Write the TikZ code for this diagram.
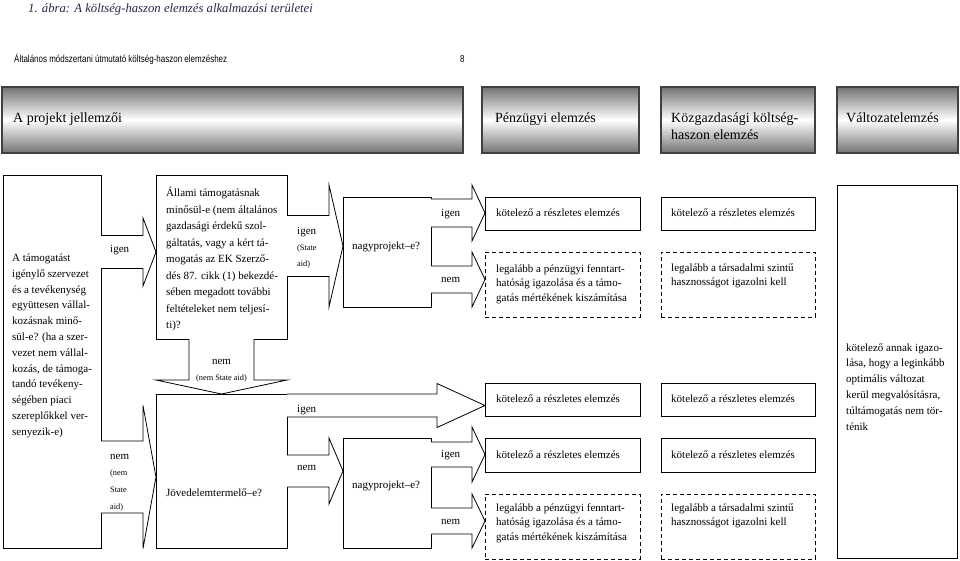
\documentclass[tikz,border=0pt]{standalone}
\usepackage{fontspec}
\usepackage{graphicx}
\setmainfont{Liberation Serif}
\newfontfamily\hdrsans{Liberation Sans}
\usetikzlibrary{calc}
\definecolor{titlecol}{RGB}{35,40,75}
\definecolor{hdrdark}{RGB}{115,115,115}
\newcommand\tl[1]{\begin{tabular}[t]{@{}l@{}}#1\end{tabular}}
\newcommand\barr[6]{%
  \coordinate (bm) at (#3,#4);
  \draw[barrow] ($(#1.east|-bm)+(0,-#5)$) -- ($(bm)+(0,-#5)$) -- ($(bm)+(0,-#6)$)
    -- (#2.west|-bm) -- ($(bm)+(0,#6)$) -- ($(bm)+(0,#5)$) -- ($(#1.east|-bm)+(0,#5)$);}
\newcommand\barrv[6]{%
  \coordinate (bm) at (#4,#3);
  \draw[barrow] ($(#1.south-|bm)+(-#5,0)$) -- ($(bm)+(-#5,0)$) -- ($(bm)+(-#6,0)$)
    -- (#2.north-|bm) -- ($(bm)+(#6,0)$) -- ($(bm)+(#5,0)$) -- ($(#1.south-|bm)+(#5,0)$);}
\tikzset{
  box/.style={draw=black, line width=1pt, anchor=north west, inner sep=0pt, outer sep=0pt},
  dbox/.style={box, dash pattern=on 4pt off 3pt},
  hbox/.style={draw=black!75, line width=1.1pt, anchor=north west, inner sep=0pt, outer sep=0pt,
    top color=hdrdark, bottom color=hdrdark, middle color=white},
  txt/.style={anchor=base west, inner sep=0pt, font=\fontsize{11}{15}\selectfont},
  small/.style={anchor=base west, inner sep=0pt, font=\fontsize{8.3}{10}\selectfont},
  htxt/.style={anchor=base west, inner sep=0pt, font=\fontsize{14}{17}\selectfont},
  barrow/.style={draw=black, line width=0.8pt, fill=white, line join=miter},
}
\begin{document}
\begin{tikzpicture}[x=1pt,y=-1pt]
\useasboundingbox (0,0) rectangle (960,560);

% title and page header
\node[anchor=base west, inner sep=0pt, text=titlecol, font=\fontsize{12.7}{16}\selectfont\itshape] (title) at (28,12) {1. ábra: A költség-haszon elemzés alkalmazási területei};
\node[anchor=base west, inner sep=0pt, font=\hdrsans\fontsize{10}{12}\selectfont] (hdr) at (14,62) {\scalebox{0.8}[1]{Általános módszertani útmutató költség-haszon elemzéshez}};
\node[anchor=base west, inner sep=0pt, font=\hdrsans\fontsize{10}{12}\selectfont] (pg) at (460,62) {\scalebox{0.8}[1]{8}};

% header boxes
\node[hbox, minimum width=461, minimum height=66] (H1) at (2,87) {};
\node[hbox, minimum width=157, minimum height=66] (H2) at (482,87) {};
\node[hbox, minimum width=154, minimum height=66] (H3) at (661,87) {};
\node[hbox, minimum width=121, minimum height=66] (H4) at (837,87) {};
\node[htxt] (H1t) at (13,122) {A projekt jellemzői};
\node[htxt] (H2t) at (495,122) {Pénzügyi elemzés};
\node[htxt] (H3t) at (671,122) {\tl{Közgazdasági költség-\\haszon elemzés}};
\node[htxt] (H4t) at (846,122) {Változatelemzés};

% boxes
\node[box, minimum width=98, minimum height=373] (L) at (3,175) {};
\node[box, minimum width=131, minimum height=164] (S) at (156,175) {};
\node[box, minimum width=88, minimum height=110] (N1) at (343,197) {};
\node[box, minimum width=155, minimum height=33] (K1) at (485,197) {};
\node[dbox, minimum width=155, minimum height=65] (D1) at (485,252) {};
\node[box, minimum width=154, minimum height=33] (K2) at (661,197) {};
\node[dbox, minimum width=154, minimum height=65] (D2) at (661,252) {};
\node[box, minimum width=120, minimum height=373] (R) at (837,185) {};
\node[box, minimum width=131, minimum height=154] (J) at (156,394) {};
\node[box, minimum width=88, minimum height=110] (N2) at (343,438) {};
\node[box, minimum width=155, minimum height=33] (K3) at (485,383) {};
\node[box, minimum width=154, minimum height=33] (K5) at (661,383) {};
\node[box, minimum width=155, minimum height=34] (K4) at (485,438) {};
\node[box, minimum width=154, minimum height=34] (K6) at (661,438) {};
\node[dbox, minimum width=155, minimum height=65] (D3) at (485,494) {};
\node[dbox, minimum width=154, minimum height=65] (D4) at (661,494) {};

% block arrows
\barr{L}{S}{143}{252}{16.5}{34}
\barr{S}{N1}{329}{246}{30.5}{61}
\barr{N1}{K1}{472}{213}{14}{28}
\barr{N1}{D1}{472}{279.5}{13.5}{27.5}
\barrv{S}{J}{380}{221.5}{32.5}{65.5}
\barr{L}{J}{143}{477}{36}{71.5}
\barr{J}{K3}{437}{405.5}{11.5}{22}
\barr{J}{N2}{329}{471}{16}{33}
\barr{N2}{K4}{472}{454.5}{12.5}{27.5}
\barr{N2}{D3}{472}{521}{13}{27}

% box texts
\node[txt, font=\fontsize{11}{15.8}\selectfont] (Lt) at (12,261.5) {\tl{A támogatást\\igénylő szervezet\\és a tevékenység\\együttesen vállal-\\kozásnak minő-\\sül-e? (ha a szer-\\vezet nem vállal-\\kozás, de támoga-\\tandó tevékeny-\\ségében piaci\\szereplőkkel ver-\\senyezik-e)}};
\node[txt, font=\fontsize{11}{16.5}\selectfont] (St) at (166,196.5) {\tl{Állami támogatásnak\\minősül-e (nem általános\\gazdasági érdekű szol-\\gáltatás, vagy a kért tá-\\mogatás az EK Szerző-\\dés 87. cikk (1) bekezdé-\\sében megadott további\\feltételeket nem teljesí-\\ti)?}};
\node[txt] (N1t) at (352,249) {nagyprojekt–e?};
\node[txt] (N2t) at (352,488) {nagyprojekt–e?};
\node[txt] (Jt) at (166,496) {Jövedelemtermelő–e?};
\node[txt] (K1t) at (496,216) {kötelező a részletes elemzés};
\node[txt] (K2t) at (671,216) {kötelező a részletes elemzés};
\node[txt] (K3t) at (496,402) {kötelező a részletes elemzés};
\node[txt] (K5t) at (671,402) {kötelező a részletes elemzés};
\node[txt] (K4t) at (496,458) {kötelező a részletes elemzés};
\node[txt] (K6t) at (671,458) {kötelező a részletes elemzés};
\node[txt, font=\fontsize{11}{14.6}\selectfont] (D1t) at (496,272) {\tl{legalább a pénzügyi fenntart-\\hatóság igazolása és a támo-\\gatás mértékének kiszámítása}};
\node[txt, font=\fontsize{11}{14.6}\selectfont] (D2t) at (671,271) {\tl{legalább a társadalmi szintű\\hasznosságot igazolni kell}};
\node[txt, font=\fontsize{11}{14.6}\selectfont] (D3t) at (496,511) {\tl{legalább a pénzügyi fenntart-\\hatóság igazolása és a támo-\\gatás mértékének kiszámítása}};
\node[txt, font=\fontsize{11}{14.6}\selectfont] (D4t) at (671,511) {\tl{legalább a társadalmi szintű\\hasznosságot igazolni kell}};
\node[txt, font=\fontsize{11}{15.8}\selectfont] (Rt) at (846,351) {\tl{kötelező annak igazo-\\lása, hogy a leginkább\\optimális változat\\kerül megvalósításra,\\túltámogatás nem tör-\\ténik}};

% arrow labels
\node[txt] (a1) at (110,252) {igen};
\node[txt] (a2) at (297,234) {igen};
\node[small, font=\fontsize{8.3}{16}\selectfont] (a2s) at (297,250) {\tl{(State\\aid)}};
\node[txt] (a3) at (441,216) {igen};
\node[txt] (a4) at (441,282) {nem};
\node[txt, anchor=base] (a5) at (221.5,364) {nem};
\node[small, anchor=base] (a5s) at (221.5,380) {(nem State aid)};
\node[txt] (a6) at (110,459) {nem};
\node[small, font=\fontsize{8.3}{17}\selectfont] (a6s) at (110,475) {\tl{(nem\\State\\aid)}};
\node[txt] (a7) at (297,412) {igen};
\node[txt] (a8) at (297,470) {nem};
\node[txt] (a9) at (441,457) {igen};
\node[txt] (a10) at (441,524) {nem};
\end{tikzpicture}
\end{document}
